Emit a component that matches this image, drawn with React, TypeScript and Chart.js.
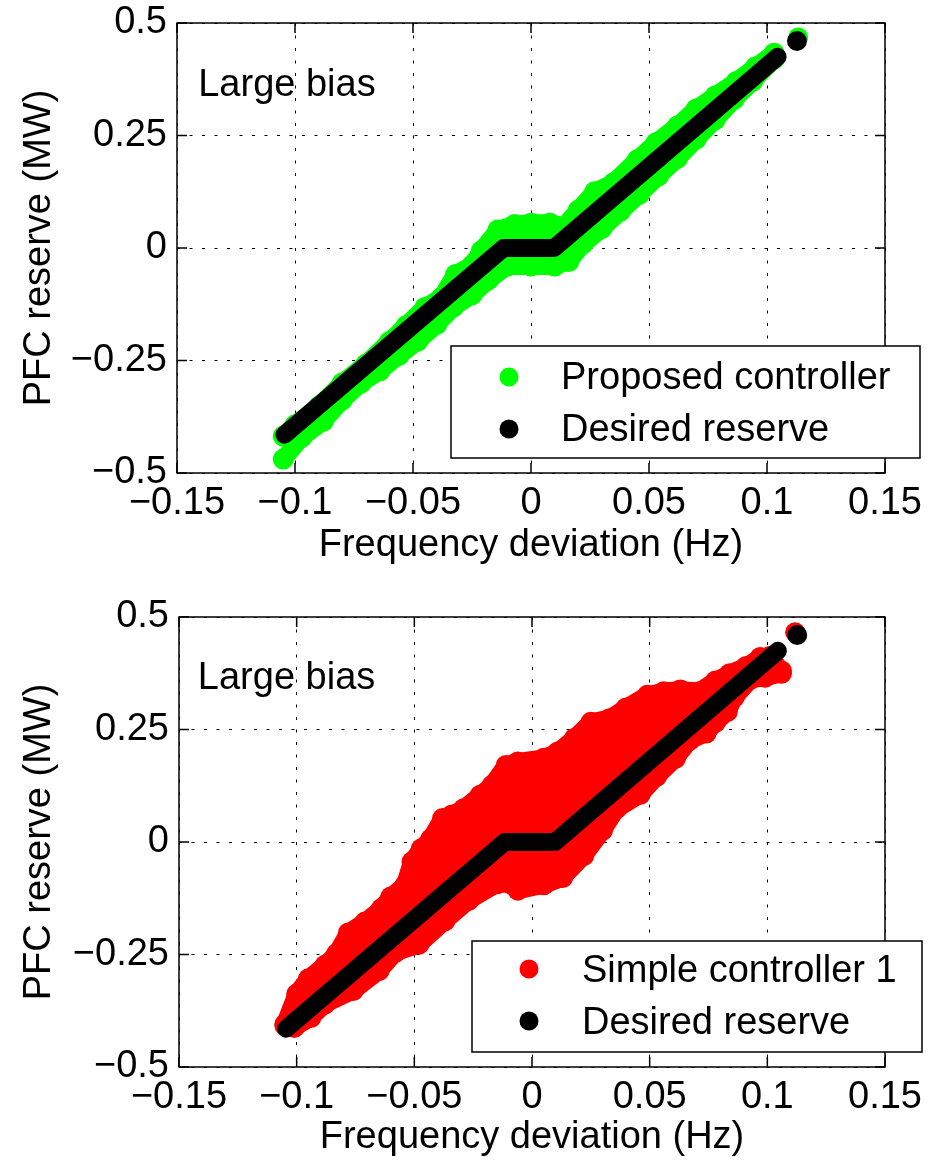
import { useEffect, useRef } from "react"
import { Chart, registerables } from "chart.js"

Chart.register(...registerables)

const FONT = "'Liberation Sans', Arial, Helvetica, sans-serif"

// ticks dos eixos
const xTicks = [-0.15, -0.1, -0.05, 0, 0.05, 0.1, 0.15]
const yTicks = [-0.5, -0.25, 0, 0.25, 0.5]

// reserva desejada (igual nos dois painéis)
const desiredX = [-0.1045, -0.0116, 0.0098, 0.1045]
const desiredY = [-0.415, 0, 0, 0.425]
const desiredOutlierX = [0.1127]
const desiredOutlierY = [0.46]

// controlador proposto: bordas da nuvem verde
const proposedUpperX = [-0.105, -0.1, -0.09, -0.08, -0.07, -0.06, -0.053, -0.045, -0.038, -0.032, -0.025, -0.021, -0.014, -0.007, 0, 0.008, 0.014, 0.02, 0.027, 0.035, 0.045, 0.053, 0.062, 0.07, 0.078, 0.087, 0.095, 0.103]
const proposedUpperY = [-0.418, -0.393, -0.352, -0.3, -0.258, -0.208, -0.173, -0.132, -0.11, -0.059, -0.038, -0.006, 0.04, 0.052, 0.055, 0.055, 0.048, 0.084, 0.125, 0.145, 0.196, 0.234, 0.271, 0.309, 0.338, 0.37, 0.402, 0.433]
const proposedLowerX = [-0.105, -0.097, -0.088, -0.08, -0.072, -0.064, -0.056, -0.048, -0.04, -0.033, -0.025, -0.018, -0.01, 0, 0.01, 0.016, 0.022, 0.03, 0.038, 0.046, 0.054, 0.062, 0.07, 0.078, 0.086, 0.094, 0.103]
const proposedLowerY = [-0.469, -0.42, -0.385, -0.338, -0.3, -0.273, -0.239, -0.207, -0.17, -0.132, -0.104, -0.071, -0.04, -0.04, -0.04, -0.03, 0.009, 0.043, 0.082, 0.12, 0.16, 0.199, 0.242, 0.285, 0.33, 0.371, 0.42]
const proposedOutlierX = [0.1132]
const proposedOutlierY = [0.468]

// controlador simples 1: bordas da nuvem vermelha
const simpleUpperX = [-0.105, -0.1, -0.095, -0.088, -0.083, -0.078, -0.071, -0.064, -0.06, -0.054, -0.051, -0.047, -0.043, -0.038, -0.034, -0.029, -0.022, -0.017, -0.011, -0.006, 0.005, 0.011, 0.018, 0.025, 0.033, 0.04, 0.049, 0.056, 0.063, 0.071, 0.078, 0.084, 0.091, 0.097, 0.101, 0.106]
const simpleUpperY = [-0.405, -0.338, -0.304, -0.274, -0.248, -0.202, -0.178, -0.148, -0.122, -0.096, -0.044, -0.015, 0.007, 0.052, 0.06, 0.074, 0.104, 0.126, 0.17, 0.178, 0.186, 0.2, 0.23, 0.266, 0.274, 0.298, 0.326, 0.334, 0.338, 0.334, 0.358, 0.374, 0.39, 0.41, 0.412, 0.38]
const simpleLowerX = [-0.105, -0.101, -0.094, -0.088, -0.076, -0.065, -0.058, -0.048, -0.037, -0.027, -0.015, -0.009, -0.006, 0.005, 0.013, 0.022, 0.03, 0.036, 0.046, 0.053, 0.061, 0.067, 0.074, 0.078, 0.083, 0.086, 0.093, 0.099, 0.106]
const simpleLowerY = [-0.408, -0.412, -0.39, -0.36, -0.33, -0.286, -0.245, -0.227, -0.175, -0.13, -0.093, -0.093, -0.107, -0.095, -0.079, -0.03, 0.026, 0.074, 0.106, 0.146, 0.186, 0.226, 0.242, 0.266, 0.29, 0.322, 0.362, 0.366, 0.375]
const simpleOutlierX = [0.1118]
const simpleOutlierY = [0.466]

const pts = (xs: number[], ys: number[]) => xs.map((x, i) => ({ x, y: ys[i] }))

const fmt = (v: number) => {
  const r = Math.round(v * 100) / 100
  if (r === 0) return "0"
  return (r < 0 ? "\u2212" : "") + String(Math.abs(r))
}

const TICK = 10

const matlabPlugin = {
  id: "matlab",
  afterDatasetsDraw(chart: any, _args: any, opts: any) {
    const { ctx, chartArea: a, scales } = chart
    ctx.save()
    ctx.setLineDash([])
    ctx.strokeStyle = "#000"
    ctx.lineWidth = 1.5
    ctx.strokeRect(a.left, a.top, a.right - a.left, a.bottom - a.top)
    ctx.beginPath()
    for (const v of xTicks) {
      const px = scales.x.getPixelForValue(v)
      ctx.moveTo(px, a.bottom)
      ctx.lineTo(px, a.bottom - TICK)
      ctx.moveTo(px, a.top)
      ctx.lineTo(px, a.top + TICK)
    }
    for (const v of yTicks) {
      const py = scales.y.getPixelForValue(v)
      ctx.moveTo(a.left, py)
      ctx.lineTo(a.left + TICK, py)
      ctx.moveTo(a.right, py)
      ctx.lineTo(a.right - TICK, py)
    }
    ctx.stroke()

    ctx.font = `38px ${FONT}`
    ctx.fillStyle = "#000"
    ctx.textAlign = "left"
    ctx.textBaseline = "middle"
    ctx.fillText(opts.note, scales.x.getPixelForValue(opts.noteX), scales.y.getPixelForValue(opts.noteY))

    // legenda
    const L = opts.legend
    ctx.fillStyle = "#fff"
    ctx.fillRect(L.left, L.top, L.right - L.left, L.bottom - L.top)
    ctx.lineWidth = 1.5
    ctx.strokeRect(L.left, L.top, L.right - L.left, L.bottom - L.top)
    const items = chart.data.datasets.filter((d: any) => d.label)
    items.forEach((d: any, i: number) => {
      const y = L.rows[i]
      ctx.beginPath()
      ctx.fillStyle = d.borderColor
      ctx.arc(L.markerX, y, 9.5, 0, Math.PI * 2)
      ctx.fill()
      ctx.fillStyle = "#000"
      ctx.fillText(d.label, L.textX, y + L.textDy)
    })
    ctx.restore()
  },
}

// linha grossa com marcadores: imita a nuvem de pontos do MATLAB
const edge = (label: string, color: string, data: any[], fill: any, order: number, radius: number) => ({
  label,
  data,
  showLine: true,
  fill,
  borderColor: color,
  backgroundColor: color,
  pointBackgroundColor: color,
  pointBorderWidth: 0,
  borderWidth: 18,
  borderJoinStyle: "round",
  borderCapStyle: "round",
  pointRadius: radius,
  order,
})

const dot = (color: string, data: any[], order: number) => ({
  label: "",
  data,
  backgroundColor: color,
  borderColor: color,
  borderWidth: 0,
  pointRadius: 10,
  order,
})

const band = (label: string, color: string, upper: any[], lower: any[], outlier: any[]) => [
  edge(label, color, upper, "+1", 3, 10.5),
  edge("", color, lower, false, 3, 10.5),
  dot(color, outlier, 3),
]

const desiredSets = () => [
  edge("Desired reserve", "#000", pts(desiredX, desiredY), false, 1, 0),
  dot("#000", pts(desiredOutlierX, desiredOutlierY), 1),
]

interface PanelProps {
  height: number
  top: number
  padTop: number
  yWidth: number
  xHeight: number
  xTitlePad: number
  datasets: any[]
  legend: any
  noteX: number
  noteY: number
}

function Panel(p: PanelProps) {
  const ref = useRef<HTMLCanvasElement>(null)

  useEffect(() => {
    if (!ref.current) return
    const font = { family: FONT, size: 38 }
    const chart = new Chart(ref.current, {
      type: "scatter",
      data: { datasets: p.datasets },
      plugins: [matlabPlugin],
      options: {
        animation: false,
        responsive: false,
        events: [],
        layout: { padding: { left: 0, right: 52, top: p.padTop, bottom: 0 } },
        plugins: {
          legend: { display: false },
          tooltip: { enabled: false },
          matlab: { legend: p.legend, note: "Large bias", noteX: p.noteX, noteY: p.noteY },
        } as any,
        scales: {
          x: {
            type: "linear",
            min: -0.15,
            max: 0.15,
            afterBuildTicks: (s: any) => {
              s.ticks = xTicks.map((value) => ({ value }))
            },
            afterFit: (s: any) => {
              s.height = p.xHeight
              s.paddingLeft = 0
              s.paddingRight = 0
            },
            ticks: {
              callback: (v: any) => fmt(Number(v)),
              font,
              color: "#000",
              padding: 8,
              maxRotation: 0,
              autoSkip: false,
            },
            grid: { color: "#000", lineWidth: 1, drawTicks: false },
            border: { display: false, dash: [3, 9.5] },
            title: {
              display: true,
              text: "Frequency deviation (Hz)",
              font,
              color: "#000",
              padding: { top: 0, bottom: p.xTitlePad },
            },
          },
          y: {
            type: "linear",
            min: -0.5,
            max: 0.5,
            afterBuildTicks: (s: any) => {
              s.ticks = yTicks.map((value) => ({ value }))
            },
            afterFit: (s: any) => {
              s.width = p.yWidth
              s.paddingTop = 0
              s.paddingBottom = 0
            },
            ticks: {
              callback: (v: any) => fmt(Number(v)),
              font,
              color: "#000",
              padding: 10,
              autoSkip: false,
            },
            grid: { color: "#000", lineWidth: 1, drawTicks: false },
            border: { display: false, dash: [3, 9.5] },
            title: {
              display: true,
              text: "PFC reserve (MW)",
              font,
              color: "#000",
              padding: { top: 17, bottom: 0 },
            },
          },
        },
      } as any,
    })
    return () => chart.destroy()
  }, [])

  return (
    <canvas
      ref={ref}
      width={937}
      height={p.height}
      style={{ position: "absolute", left: 0, top: p.top, display: "block" }}
    />
  )
}

export default function App() {
  return (
    <div style={{ position: "absolute", left: 0, top: 0, width: 937, height: 1169, background: "#fff" }}>
      <Panel
        height={584}
        top={0}
        padTop={23}
        yWidth={177}
        xHeight={111}
        xTitlePad={16}
        datasets={[
          ...band(
            "Proposed controller",
            "#00ff00",
            pts(proposedUpperX, proposedUpperY),
            pts(proposedLowerX, proposedLowerY),
            pts(proposedOutlierX, proposedOutlierY)
          ),
          ...desiredSets(),
        ]}
        legend={{ left: 451, top: 346, right: 920, bottom: 458, markerX: 509, textX: 561, rows: [377, 429], textDy: 2 }}
        noteX={-0.141}
        noteY={0.36}
      />
      <Panel
        height={585}
        top={584}
        padTop={33}
        yWidth={179}
        xHeight={102}
        xTitlePad={9}
        datasets={[
          ...band(
            "Simple controller 1",
            "#ff0000",
            pts(simpleUpperX, simpleUpperY),
            pts(simpleLowerX, simpleLowerY),
            pts(simpleOutlierX, simpleOutlierY)
          ),
          ...desiredSets(),
        ]}
        legend={{ left: 472, top: 357, right: 922, bottom: 468, markerX: 529, textX: 582, rows: [385, 437], textDy: 3 }}
        noteX={-0.142}
        noteY={0.364}
      />
    </div>
  )
}
